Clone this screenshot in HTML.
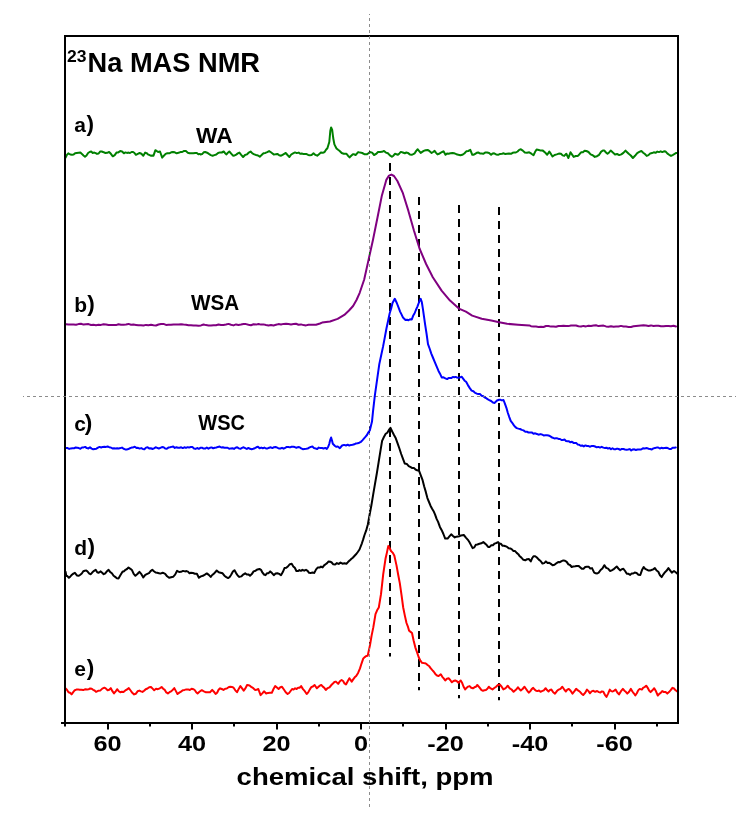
<!DOCTYPE html>
<html><head><meta charset="utf-8"><style>
html,body{margin:0;padding:0;background:#fff;}
svg{display:block;}
text{-webkit-font-smoothing:antialiased;}
text{font-family:"Liberation Sans",sans-serif;font-weight:bold;fill:#000;}
.tk{font-size:21.6px;}
.lb{font-size:21px;}
</style></head><body>
<svg style="will-change:transform" width="756" height="813" viewBox="0 0 756 813">
<rect width="756" height="813" fill="#fff"/>
<!-- crosshair -->
<line x1="390" y1="163" x2="390" y2="656.5" stroke="#000" stroke-width="2" stroke-dasharray="8 6"/><line x1="419" y1="197" x2="419" y2="690.2" stroke="#000" stroke-width="2" stroke-dasharray="8 6"/><line x1="459" y1="205" x2="459" y2="698.2" stroke="#000" stroke-width="2" stroke-dasharray="8 6"/><line x1="499" y1="207" x2="499" y2="700.2" stroke="#000" stroke-width="2" stroke-dasharray="8 6"/>
<polyline points="65.6,157.6 66.9,154.9 68.3,153.3 70.2,154.5 72.0,154.8 73.6,154.6 75.1,153.3 76.7,153.0 78.6,152.8 80.4,152.6 81.9,153.9 83.5,155.5 85.0,156.7 86.5,155.5 88.1,153.0 89.6,152.0 91.2,151.5 92.7,152.9 94.3,152.6 95.7,153.2 97.0,153.9 98.6,153.5 100.1,151.6 101.7,151.5 103.6,152.2 105.4,153.0 107.2,152.8 109.1,152.0 110.9,153.8 112.8,156.3 114.7,155.1 116.5,152.6 118.3,152.4 120.2,151.1 122.1,151.5 123.9,153.3 125.4,152.4 127.0,152.9 128.5,152.6 130.0,153.0 131.6,152.0 133.1,152.0 134.5,153.0 135.9,154.8 137.8,153.8 139.6,153.0 141.4,153.7 143.3,155.7 145.2,152.6 146.6,153.1 148.0,154.4 150.7,155.7 152.1,155.6 153.5,155.7 155.4,150.2 158.1,152.0 160.0,151.5 162.2,157.6 163.9,155.7 165.6,153.9 167.4,153.2 169.3,153.3 171.2,152.3 173.0,152.0 174.8,152.3 176.7,153.3 178.5,152.8 180.4,152.1 182.2,152.0 184.1,150.9 185.9,151.1 187.8,152.7 189.6,153.3 191.5,153.3 193.3,153.3 195.2,153.0 196.8,152.9 198.4,154.3 200.0,153.9 200.6,154.4 202.1,154.1 203.7,152.3 205.2,152.0 207.1,152.7 208.9,153.9 210.8,155.1 212.6,155.7 214.4,155.1 216.3,154.5 218.1,153.0 220.0,152.4 221.8,152.5 223.7,151.5 225.1,153.2 226.5,154.4 227.9,152.7 229.3,151.5 231.2,153.7 233.0,155.7 234.6,155.5 236.2,154.6 237.8,153.4 239.4,152.6 241.2,154.9 243.1,157.0 245.0,155.0 246.9,154.4 248.8,152.6 250.6,151.5 252.4,153.4 254.3,154.4 256.1,155.0 258.0,155.5 259.8,156.7 261.6,155.1 263.5,153.3 265.4,152.9 267.2,152.1 269.1,151.1 270.6,152.0 272.2,153.2 273.7,154.4 275.5,154.2 277.4,153.9 279.2,155.2 281.1,155.7 282.6,154.8 284.2,153.8 285.7,153.0 287.5,155.0 289.4,157.0 291.2,154.5 293.1,153.3 295.0,152.4 296.8,153.1 298.7,152.6 300.2,153.7 301.8,153.6 303.3,153.9 304.9,154.1 306.6,154.1 308.2,154.9 309.8,155.2 311.6,154.9 313.5,153.3 315.4,154.9 317.2,155.7 319.0,154.2 320.9,152.6 322.8,152.8 324.6,152.0 326.0,149.8 327.4,148.3 329.3,142.0 330.3,131.0 331.1,127.5 332.2,130.0 333.2,138.0 334.4,144.4 336.5,148.5 338.1,149.8 339.7,151.0 341.7,153.0 343.7,153.7 346.3,153.7 348.0,155.7 349.6,157.4 351.2,155.8 352.9,154.3 354.2,154.3 355.6,155.0 358.2,152.1 360.2,152.6 362.2,153.0 364.8,154.3 366.8,154.3 368.8,153.0 370.5,152.1 372.1,152.6 374.1,155.0 376.1,153.9 378.0,152.1 380.0,151.9 382.0,151.8 384.0,150.9 385.9,152.6 387.9,153.3 389.9,155.4 391.9,156.8 393.4,155.7 394.9,153.8 396.4,154.3 397.9,154.8 399.4,153.4 400.8,151.9 402.8,152.5 404.8,153.3 406.3,152.5 407.8,152.9 409.8,154.4 411.7,154.8 413.2,154.1 414.7,153.3 416.2,150.9 417.7,149.3 419.2,151.1 420.7,152.9 422.2,151.9 423.7,150.9 425.6,150.2 427.6,149.9 429.6,151.2 431.6,152.9 433.1,152.0 434.6,150.9 436.1,152.8 437.5,154.4 439.0,153.8 440.5,152.9 442.0,152.0 443.5,151.3 445.5,154.8 447.0,153.6 448.5,153.8 450.5,153.3 452.4,153.0 454.4,153.3 456.4,154.2 458.4,154.8 460.4,155.3 462.3,154.8 464.3,153.5 466.3,151.3 468.3,151.0 470.3,149.9 472.3,154.8 473.8,154.7 475.2,153.8 476.7,152.8 478.2,152.5 479.9,153.4 481.5,153.6 483.2,153.8 485.1,152.6 487.1,152.5 489.1,153.0 491.1,154.8 492.6,153.4 494.1,153.3 496.1,154.4 498.1,154.8 500.1,153.9 502.0,153.8 503.7,153.3 505.3,154.0 507.0,153.8 509.0,153.6 511.0,153.8 512.6,152.8 514.3,152.5 515.9,152.5 517.6,151.5 519.2,149.9 520.9,149.3 522.8,150.6 524.8,152.5 527.0,152.7 529.2,152.3 531.4,153.7 533.5,155.2 535.0,152.1 536.6,149.5 538.8,150.0 540.9,150.6 542.5,150.4 544.0,151.6 545.6,153.0 547.2,154.8 549.3,151.6 550.9,153.9 552.5,156.5 554.6,155.0 556.7,154.4 558.9,153.6 561.0,153.8 562.6,155.4 564.2,155.9 566.3,153.8 568.4,158.0 570.5,152.3 572.1,154.6 573.7,156.9 575.8,156.0 577.9,155.9 579.5,154.2 581.1,152.3 582.9,152.3 584.6,150.8 586.4,151.0 588.5,152.0 590.6,154.4 592.7,155.2 594.8,156.9 597.0,156.2 599.1,154.8 601.2,151.6 602.8,150.6 604.4,150.6 606.0,152.5 607.5,153.8 609.1,152.4 610.7,150.6 612.9,152.6 615.0,154.4 617.1,154.0 619.2,155.1 621.3,154.4 623.4,152.9 625.5,150.6 627.1,152.2 628.7,153.8 630.8,155.5 632.9,158.0 635.0,155.8 637.2,153.1 639.3,151.9 641.4,151.0 643.2,152.7 644.9,154.0 646.7,155.9 648.5,155.1 650.2,153.4 652.0,153.1 653.8,152.3 655.5,152.8 657.3,151.6 659.0,152.1 660.7,151.3 662.3,152.1 664.0,151.3 665.7,151.6 667.5,153.6 669.2,154.8 671.0,155.9 672.6,155.1 674.2,154.2 675.8,153.1 677.4,153.1" fill="none" stroke="#008000" stroke-width="2" stroke-linejoin="round" stroke-linecap="round"/>
<polyline points="66.0,324.2 68.5,324.5 71.0,324.4 73.5,324.6 76.0,324.8 78.5,324.1 81.0,323.7 83.5,324.6 86.0,324.3 88.5,324.1 91.0,325.0 93.5,324.8 96.0,325.2 98.5,324.8 101.0,324.9 103.5,324.3 106.0,324.6 108.5,325.1 111.0,324.9 113.5,325.1 116.0,325.1 118.5,324.2 121.0,324.8 123.5,324.8 126.0,324.4 128.5,323.9 131.0,324.7 133.5,324.6 136.0,324.9 138.5,325.3 141.0,325.2 143.5,325.5 146.0,324.9 148.5,325.2 151.0,324.8 153.5,325.3 156.0,325.5 158.5,324.5 161.0,324.0 163.5,323.9 166.0,324.9 168.5,324.7 171.0,324.8 173.5,324.4 176.0,324.5 178.5,324.4 181.0,324.3 183.5,324.6 186.0,324.7 188.5,325.2 191.0,325.2 193.5,325.5 196.0,325.5 198.5,325.8 201.0,325.4 203.5,324.5 206.0,325.1 208.5,325.5 211.0,325.6 213.5,325.2 216.0,325.2 218.5,324.5 221.0,325.0 223.5,324.9 226.0,324.5 228.5,323.9 231.0,324.8 233.5,325.4 236.0,324.4 238.5,324.9 241.0,324.6 243.5,324.1 246.0,324.1 248.5,324.7 251.0,325.2 253.5,324.3 256.0,324.6 258.5,324.0 261.0,324.6 263.5,324.4 266.0,325.0 268.5,325.5 271.0,325.0 273.5,325.5 276.0,324.8 278.5,324.1 281.0,324.5 283.5,323.9 286.0,323.8 288.5,324.1 291.0,324.5 293.5,324.1 296.0,323.7 298.5,324.7 301.0,324.4 303.5,325.1 306.0,325.4 308.5,324.8 311.0,324.7 313.5,324.7 316.0,324.8 320.0,323.5 322.1,322.6 330.0,321.5 337.6,318.9 344.3,314.9 349.0,310.5 353.1,306.0 356.5,300.0 359.7,292.8 364.2,279.5 368.6,259.6 373.0,239.7 377.5,217.5 381.9,195.4 386.3,179.9 389.0,175.6 391.4,174.6 394.0,176.0 397.4,181.0 402.9,193.2 408.4,210.9 414.0,230.8 419.5,248.5 426.1,264.0 432.8,277.3 441.6,290.6 450.0,300.6 458.9,308.6 465.9,311.7 472.2,315.6 481.7,318.7 491.3,320.6 499.2,322.2 507.1,323.8 518.0,324.7 529.4,325.4 531.0,326.2 533.5,326.5 536.0,326.6 538.5,326.9 541.0,326.8 543.5,327.0 546.0,326.0 548.5,326.0 551.0,326.6 553.5,326.5 556.0,326.8 558.5,326.0 561.0,326.0 563.5,325.7 566.0,326.0 568.5,326.1 571.0,325.5 573.5,325.5 576.0,325.5 578.5,326.3 581.0,326.5 583.5,325.9 586.0,326.4 588.5,325.8 591.0,326.1 593.5,325.6 596.0,325.3 598.5,326.1 601.0,325.8 603.5,325.6 606.0,326.4 608.5,326.7 611.0,326.2 613.5,326.7 616.0,326.4 618.5,326.5 621.0,325.9 623.5,326.5 626.0,326.6 628.5,326.9 631.0,327.0 633.5,326.3 636.0,326.0 638.5,325.7 641.0,325.5 643.5,325.3 646.0,325.4 648.5,325.9 651.0,325.4 653.5,326.0 656.0,325.8 658.5,325.7 661.0,326.3 663.5,326.2 666.0,325.9 668.5,326.0 671.0,326.3 673.5,325.7 676.0,326.5" fill="none" stroke="#800080" stroke-width="2" stroke-linejoin="round" stroke-linecap="round"/>
<polyline points="66.0,447.9 67.6,448.1 69.2,448.9 70.8,448.4 72.4,448.2 74.0,448.3 75.6,447.5 77.2,447.8 78.8,448.1 80.4,448.7 82.0,447.5 83.6,447.4 85.2,446.9 86.8,448.1 88.4,448.4 90.0,447.3 91.6,448.6 93.2,449.2 94.8,448.9 96.4,448.7 98.0,447.7 99.6,446.9 101.2,447.5 102.8,446.9 104.4,446.8 106.0,446.9 107.6,446.5 109.2,447.2 110.8,447.5 112.4,448.4 114.0,448.2 115.6,448.4 117.2,448.2 118.8,448.4 120.4,448.1 122.0,447.6 123.6,448.8 125.2,449.4 126.8,449.4 128.4,449.1 130.0,448.2 131.6,447.6 133.2,447.4 134.8,446.8 136.4,447.9 138.0,447.8 139.6,448.6 141.2,448.1 142.8,448.9 144.4,449.2 146.0,447.6 147.6,447.2 149.2,448.4 150.8,448.2 152.4,449.0 154.0,448.3 155.6,447.3 157.2,447.9 158.8,448.5 160.4,447.8 162.0,447.1 163.6,447.2 165.2,448.5 166.8,448.8 168.4,447.6 170.0,447.3 171.6,446.9 173.2,446.5 174.8,447.9 176.4,447.3 178.0,447.8 179.6,447.8 181.2,447.3 182.8,448.1 184.4,447.3 186.0,447.9 187.6,447.2 189.2,447.4 190.8,447.1 192.4,447.1 194.0,448.5 195.6,448.9 197.2,448.0 198.8,448.8 200.4,447.8 202.0,447.7 203.6,448.6 205.2,448.6 206.8,447.5 208.4,448.7 210.0,447.8 211.6,447.4 213.2,448.3 214.8,447.8 216.4,447.5 218.0,446.9 219.6,446.6 221.2,447.5 222.8,447.2 224.4,447.8 226.0,447.7 227.6,447.7 229.2,448.8 230.8,448.4 232.4,448.3 234.0,448.9 235.6,447.8 237.2,447.2 238.8,448.4 240.4,448.8 242.0,447.9 243.6,447.3 245.2,448.1 246.8,449.0 248.4,447.9 250.0,448.8 251.6,449.2 253.2,448.8 254.8,448.2 256.4,447.3 258.0,446.7 259.6,448.3 261.2,447.6 262.8,448.2 264.4,447.6 266.0,448.5 267.6,448.4 269.2,447.8 270.8,447.3 272.4,448.1 274.0,447.2 275.6,447.0 277.2,447.6 278.8,448.5 280.4,448.5 282.0,447.8 283.6,448.7 285.2,447.8 286.8,446.9 288.4,447.0 290.0,447.4 291.6,446.8 293.2,446.8 294.8,447.1 296.4,447.7 298.0,447.1 299.6,447.3 301.2,448.4 302.8,449.2 304.4,448.9 306.0,448.8 307.6,448.6 309.2,447.6 310.8,446.9 312.4,446.5 314.0,448.1 315.6,448.4 317.2,449.1 318.8,447.6 320.4,448.1 322.0,448.0 323.6,448.5 325.2,447.9 326.8,448.9 328.1,447.0 329.3,443.8 330.2,440.0 331.1,437.5 332.0,440.5 332.8,443.8 335.0,446.0 336.4,446.8 337.7,446.4 339.9,448.2 342.1,445.5 344.1,444.9 346.0,445.5 347.7,444.7 349.3,445.6 351.0,444.9 352.6,444.8 354.3,444.3 356.0,443.4 357.6,443.3 359.3,442.7 361.0,441.8 362.6,440.1 364.3,438.2 365.6,436.7 367.0,435.0 368.4,432.3 369.8,430.5 372.0,421.6 373.1,410.6 374.9,395.1 377.1,379.6 379.3,364.1 381.2,355.2 383.1,346.4 384.8,337.4 386.4,328.7 388.0,321.3 389.7,313.2 391.1,308.8 392.5,303.0 394.8,298.8 396.8,303.0 398.6,307.7 400.1,311.6 401.5,314.4 403.0,317.6 404.2,318.7 405.5,320.0 407.0,319.8 408.5,320.3 410.1,319.2 411.8,319.4 413.1,315.8 414.5,313.5 415.9,310.0 417.4,306.6 419.5,301.0 420.7,298.8 421.8,302.0 422.9,308.8 425.1,324.3 426.6,334.0 428.0,344.2 429.6,348.5 431.3,353.6 432.9,357.5 434.7,361.9 436.6,366.4 438.4,370.7 440.0,373.7 441.7,377.4 443.5,377.3 445.4,378.3 447.2,379.1 448.6,378.0 450.0,378.0 451.4,378.1 452.8,376.9 454.2,377.3 455.6,376.9 457.0,377.5 458.5,377.8 460.1,377.4 461.6,376.7 463.1,378.7 464.6,380.7 466.1,381.8 467.9,385.1 469.8,388.1 471.6,390.6 473.4,391.2 475.1,392.9 476.9,393.7 478.7,393.9 480.1,394.1 481.6,395.7 483.0,396.0 484.5,397.3 486.0,398.0 487.5,399.1 489.3,400.1 491.1,401.0 492.9,402.5 494.7,402.9 497.0,400.5 499.1,399.7 500.6,399.8 502.0,400.4 503.5,400.0 504.9,403.7 506.4,407.8 507.8,412.7 509.3,417.1 510.7,420.9 512.2,422.8 513.6,424.9 515.1,426.8 516.7,428.1 518.4,428.6 520.0,429.0 521.8,429.9 523.5,430.4 525.3,431.7 526.9,431.7 528.4,432.5 530.0,432.5 531.7,432.4 533.5,433.8 535.2,433.3 536.9,434.0 538.6,434.7 540.3,434.1 542.0,434.5 543.6,435.4 545.3,435.3 547.0,435.3 548.6,435.5 550.0,436.2 551.5,437.2 553.0,437.8 554.4,438.4 555.8,438.3 557.2,438.3 558.6,438.9 560.0,439.0 561.5,440.0 563.0,439.9 564.5,439.6 566.0,441.0 567.5,441.2 569.0,441.3 570.5,442.3 572.0,441.7 573.5,442.9 575.0,443.0 576.4,443.1 577.8,444.6 579.2,444.7 580.6,445.7 582.2,445.4 583.8,446.4 585.4,445.4 587.0,446.0 588.6,446.1 590.2,446.7 591.9,445.9 593.5,446.0 595.1,446.5 596.8,447.3 598.4,446.9 600.0,447.6 601.7,446.8 603.4,447.6 605.0,448.0 606.5,447.7 608.0,448.6 609.5,447.9 611.0,449.3 612.5,448.2 614.0,449.3 615.5,449.2 617.1,448.6 618.7,449.0 620.2,449.8 621.8,448.9 623.4,449.0 625.0,449.5 626.6,449.8 628.1,449.5 629.7,449.1 631.2,450.5 632.8,449.4 634.3,449.3 635.9,450.0 637.6,449.5 639.4,449.6 641.1,449.5 642.9,448.3 644.6,448.6 647.0,448.1 648.6,448.7 650.2,449.0 651.8,449.5 653.4,448.4 655.0,448.0 656.6,447.6 658.2,447.5 659.8,448.5 661.4,447.8 663.0,448.3 664.6,447.9 666.2,447.8 667.8,448.1 669.4,449.0 671.0,449.0 672.6,447.8 674.2,447.8 675.8,447.5" fill="none" stroke="#0000ff" stroke-width="2" stroke-linejoin="round" stroke-linecap="round"/>
<polyline points="65.6,571.8 66.3,575.8 67.6,576.3 68.9,577.8 70.4,576.4 71.9,574.8 73.4,573.6 74.9,572.8 76.9,575.4 78.8,575.8 80.3,574.7 81.8,573.5 83.3,571.3 84.8,570.8 86.3,570.4 87.8,571.8 89.3,573.6 90.8,574.2 92.4,572.3 94.1,570.8 95.7,569.8 97.2,572.2 98.7,572.8 100.7,571.4 102.2,572.7 103.7,574.2 105.3,573.3 107.0,571.2 108.6,569.8 110.3,572.1 111.9,573.2 113.6,575.8 115.2,576.9 116.9,578.2 118.5,578.4 120.5,575.1 122.5,571.8 124.0,571.2 125.5,569.8 127.0,569.0 128.5,567.5 130.4,568.8 132.1,570.3 133.7,573.9 135.4,575.8 137.4,574.0 139.4,571.8 141.4,574.2 143.3,577.4 145.3,574.8 147.3,573.8 149.0,573.1 150.6,571.1 152.3,569.8 153.9,571.2 155.6,572.5 157.2,572.8 158.9,573.2 160.5,573.6 162.2,572.8 163.7,573.1 165.2,573.8 167.1,576.3 169.1,577.8 171.1,577.2 173.1,576.8 175.1,574.6 177.1,570.8 179.1,572.0 181.0,571.8 183.0,570.9 185.0,571.4 186.5,571.1 188.0,571.6 189.5,573.3 191.0,572.8 193.0,573.0 194.9,573.7 196.9,573.8 198.9,577.8 200.9,576.4 202.9,575.8 204.9,574.6 206.8,573.4 208.8,574.9 210.7,576.9 212.2,575.0 213.7,573.9 215.2,572.3 216.7,570.5 218.7,572.2 220.6,572.7 222.6,573.3 224.4,575.7 226.3,577.1 228.1,578.1 229.7,577.0 231.3,574.5 232.9,571.6 234.5,570.2 236.1,573.1 237.7,575.5 239.3,576.9 241.3,576.4 243.2,574.6 245.2,573.3 246.8,574.5 248.4,574.4 250.0,575.7 251.8,574.1 253.6,571.4 255.6,570.7 257.5,569.4 259.5,569.0 261.0,569.8 262.5,572.7 264.0,574.5 265.5,575.2 267.1,573.2 268.6,573.2 270.2,571.4 272.0,573.1 273.8,575.2 275.6,573.6 277.4,573.3 279.2,573.9 281.0,575.2 282.8,572.1 284.5,568.1 286.3,567.8 288.1,566.2 289.9,564.2 291.7,563.8 293.3,566.4 294.8,567.8 296.4,571.0 297.9,571.1 299.4,570.1 300.9,570.8 302.4,569.8 304.2,570.7 306.0,569.8 307.6,570.8 309.1,572.8 310.7,572.9 312.5,572.6 314.3,572.9 316.1,569.4 317.9,567.4 319.5,567.6 321.0,566.6 322.6,567.4 324.1,565.4 325.6,564.2 327.1,563.1 328.6,561.4 330.2,561.7 331.7,562.5 333.3,564.3 335.1,564.5 336.9,563.1 338.7,563.9 340.5,562.6 342.5,563.7 344.4,563.2 346.4,563.8 348.0,562.1 349.6,560.6 351.2,559.0 352.8,557.7 354.4,556.0 356.0,554.3 357.8,552.0 359.5,549.5 361.9,543.3 363.2,539.4 364.5,535.0 366.2,530.4 367.9,524.3 369.6,514.8 371.4,505.2 373.2,494.4 375.0,483.8 376.8,473.5 378.6,462.4 380.4,451.2 382.1,440.9 383.9,437.0 385.7,433.8 387.3,432.7 388.9,429.9 390.5,427.9 392.2,431.5 394.0,435.0 395.8,438.3 397.6,443.3 399.4,448.5 401.2,454.0 403.0,458.9 404.8,463.6 406.8,463.9 408.7,466.1 410.7,467.1 412.3,468.1 413.9,467.9 415.5,469.5 417.2,470.3 419.0,470.7 420.8,475.4 422.6,480.2 424.2,486.5 425.8,491.9 427.4,498.1 429.0,502.0 430.5,505.7 432.1,508.8 433.6,511.2 435.1,514.6 436.6,518.9 438.1,521.9 439.9,526.9 441.7,530.2 443.4,534.0 445.2,538.6 447.6,538.6 449.4,536.4 451.2,534.3 453.0,536.0 454.8,537.4 456.4,536.7 457.9,536.4 459.5,536.2 460.9,535.5 462.4,535.2 463.8,535.0 465.9,537.6 467.9,539.8 469.5,542.2 471.0,545.1 472.6,548.1 474.2,547.4 475.8,544.8 477.4,544.5 479.4,543.8 481.3,543.3 483.3,542.1 484.9,543.4 486.5,544.8 488.1,546.9 489.7,546.9 491.3,545.3 492.9,545.2 494.6,543.6 496.4,543.0 498.1,542.1 499.5,543.7 501.0,543.8 502.4,545.7 504.0,545.8 505.5,546.2 507.1,546.9 508.7,548.3 510.3,548.4 511.9,549.3 513.5,551.1 515.1,551.1 516.7,552.9 518.3,554.2 519.8,556.3 521.4,557.6 523.4,559.8 525.3,560.3 527.1,559.2 529.0,559.1 530.8,561.4 532.1,558.3 533.5,556.2 535.2,556.2 536.9,557.5 538.8,559.6 540.6,561.0 542.5,563.6 544.2,563.1 545.9,561.4 547.6,563.0 549.2,562.7 550.9,563.9 552.6,565.2 554.5,564.7 556.3,563.3 558.2,562.0 559.9,562.2 561.6,561.1 563.3,560.4 565.0,560.7 566.7,561.9 568.4,564.4 570.0,565.0 571.7,567.0 573.4,566.4 575.1,566.3 576.8,566.0 578.5,565.9 580.1,567.2 581.8,568.8 583.5,568.7 585.2,567.0 586.9,566.7 588.6,566.7 590.3,568.6 592.0,568.1 594.2,572.6 595.7,573.3 597.2,573.5 598.7,572.6 600.6,570.0 602.4,568.5 604.3,565.2 606.2,567.9 608.1,568.6 610.0,571.0 611.7,570.3 613.4,569.4 615.0,567.9 616.7,566.5 618.4,568.5 620.1,570.4 621.8,569.2 623.4,568.8 625.1,571.0 626.8,573.7 628.5,573.8 630.2,574.9 631.7,573.4 633.2,573.5 634.7,572.6 636.6,573.0 638.4,574.7 640.3,574.9 642.0,570.1 643.7,567.0 645.2,568.9 646.7,569.6 648.2,570.4 649.9,570.6 651.5,570.0 653.2,569.4 654.9,568.1 656.6,570.5 658.3,571.7 660.0,575.3 661.7,577.1 663.4,574.3 665.0,572.2 666.7,570.6 668.4,568.1 670.1,570.4 671.8,572.6 674.0,571.0 675.7,572.2 677.4,573.7" fill="none" stroke="#000000" stroke-width="2" stroke-linejoin="round" stroke-linecap="round"/>
<polyline points="65.3,688.1 66.9,689.8 68.5,692.3 70.0,692.8 71.6,694.4 73.2,692.2 74.8,690.2 76.4,689.6 78.0,689.4 79.6,689.8 81.2,689.8 83.3,690.1 85.4,689.2 87.0,689.5 88.6,689.3 90.1,688.4 91.7,688.7 93.1,689.8 94.6,690.5 96.0,691.9 98.1,690.8 100.2,690.6 102.3,688.6 104.4,687.7 106.0,688.6 107.6,690.2 109.2,689.7 110.8,688.1 112.4,691.2 114.0,693.4 115.5,691.7 117.1,689.2 118.7,691.2 120.3,692.3 121.9,691.7 123.5,691.9 125.3,690.4 127.0,689.5 128.8,688.1 130.6,690.5 132.3,692.8 134.1,694.4 135.9,693.7 137.6,691.3 139.4,690.6 140.9,691.4 142.5,691.9 144.1,690.8 145.7,689.2 147.5,688.5 149.2,687.3 151.0,687.0 152.6,688.6 154.2,690.2 156.0,688.8 157.9,689.2 159.8,688.3 161.6,687.0 163.2,688.7 164.8,689.9 166.3,692.4 167.9,693.4 169.5,692.2 171.1,691.3 172.7,689.9 174.3,688.1 175.9,691.1 177.5,694.0 179.3,692.6 181.0,691.6 182.8,690.2 184.6,689.9 186.3,689.4 188.1,689.4 189.8,690.0 191.6,688.7 193.3,689.2 194.7,690.0 196.2,692.2 197.6,693.4 199.7,691.5 201.8,690.2 203.9,691.3 206.0,692.3 208.0,692.2 210.0,692.2 212.2,689.9 213.9,691.7 215.6,694.0 217.1,692.8 218.6,689.8 220.1,688.3 221.8,689.0 223.5,689.9 225.2,688.7 226.8,688.5 228.5,687.3 230.2,686.8 231.9,687.0 233.6,687.7 235.3,690.3 237.0,692.2 238.7,688.9 240.4,686.1 242.1,688.4 243.7,690.6 245.4,688.4 247.1,685.0 248.6,685.2 250.1,685.9 251.6,687.2 253.3,688.2 255.0,689.9 256.6,689.8 258.3,689.0 260.6,695.1 262.3,693.4 264.0,691.3 266.2,693.5 268.1,692.9 269.9,692.8 271.8,692.8 273.5,689.0 275.2,686.1 276.9,687.5 278.6,689.0 280.3,687.3 282.0,686.8 283.9,689.5 285.7,692.2 287.6,694.0 289.1,693.0 290.6,691.0 292.1,689.0 293.6,689.6 295.1,688.3 296.6,689.0 298.1,687.7 299.6,687.7 301.1,686.1 303.0,689.1 304.8,691.2 306.7,694.0 308.2,692.4 309.7,689.6 311.2,687.2 312.9,686.5 314.6,685.0 316.8,688.3 318.3,686.9 319.8,685.7 321.3,685.0 322.8,686.6 324.3,687.8 325.8,689.9 327.7,688.1 329.5,687.3 331.4,685.0 332.9,683.6 334.4,682.0 335.9,681.6 338.2,683.9 339.9,681.3 341.6,680.0 343.1,681.0 344.5,683.4 346.0,684.5 347.7,681.2 349.4,678.2 351.7,681.6 353.2,679.4 354.7,677.3 356.2,676.0 358.1,672.9 360.0,668.4 361.6,663.3 363.3,658.4 364.8,657.1 366.2,656.0 367.7,655.7 370.0,645.1 371.6,635.6 373.3,627.4 375.5,614.1 377.1,610.3 378.8,607.5 381.0,594.2 383.2,574.3 385.5,558.8 386.9,552.6 388.3,545.9 389.6,548.0 391.0,551.0 392.6,552.6 394.3,555.5 396.5,565.4 398.1,574.2 399.8,583.1 401.5,594.9 403.2,607.5 404.9,615.9 406.5,623.0 407.8,626.3 409.1,630.7 410.6,631.9 412.0,633.0 413.6,640.5 415.3,647.3 417.0,652.2 418.7,657.3 420.4,660.7 422.0,662.8 423.5,663.1 424.9,663.2 426.4,663.9 427.9,665.3 429.3,666.3 430.8,668.4 432.3,670.1 433.8,671.7 435.3,673.9 437.0,675.5 438.6,676.1 440.8,674.3 442.3,676.8 443.7,678.4 445.2,680.5 446.9,678.7 448.6,678.3 450.2,680.0 451.9,682.3 453.5,681.0 455.2,680.5 456.9,681.2 458.5,682.8 460.7,680.5 462.2,683.1 463.7,687.0 465.2,689.4 466.7,687.8 468.1,686.6 469.6,686.1 471.2,687.8 472.9,688.3 474.4,687.3 475.8,686.8 477.3,685.0 479.4,687.4 481.5,690.1 483.0,690.7 484.4,690.3 485.9,690.1 487.4,688.8 488.8,686.7 490.6,688.4 492.5,689.4 494.3,688.0 496.1,686.7 497.9,685.0 499.7,684.5 501.5,686.5 503.4,689.4 504.8,688.7 506.3,687.5 507.7,685.7 509.7,688.3 511.6,689.5 513.6,691.8 515.0,690.5 516.5,689.2 517.9,687.2 519.3,689.0 520.8,690.4 522.6,689.0 524.5,686.7 525.9,688.7 527.4,690.8 528.8,692.6 530.3,691.3 531.7,689.1 533.2,687.9 534.7,689.6 536.1,690.7 537.6,691.1 539.0,690.5 540.5,691.8 541.9,691.1 543.8,690.3 545.6,688.2 547.0,690.1 548.5,691.5 550.0,689.9 551.4,689.6 553.2,692.2 555.0,693.6 556.9,691.1 558.7,689.6 560.5,688.8 562.3,686.7 564.1,689.3 565.9,691.5 567.3,689.6 568.8,688.9 570.6,690.8 572.5,693.6 574.3,691.4 576.1,688.9 578.0,690.4 580.0,691.8 581.6,693.7 583.2,695.0 585.1,692.9 587.0,689.6 588.5,691.1 589.9,693.3 591.6,691.4 593.4,690.8 595.2,691.8 597.1,691.0 598.9,692.1 600.4,692.5 601.8,691.4 603.3,691.8 604.9,694.8 606.5,696.9 608.1,693.6 609.8,689.6 611.2,691.1 612.7,691.5 614.2,690.6 615.6,689.6 617.3,692.5 619.0,694.4 621.0,691.2 622.9,688.9 624.4,690.7 625.8,691.8 627.3,693.6 629.1,691.8 630.9,688.9 632.4,691.5 633.8,693.3 635.3,695.5 636.8,693.3 638.2,690.4 639.7,688.9 641.8,689.6 643.3,687.6 644.7,687.1 646.2,685.7 647.7,687.8 649.1,690.5 650.6,692.1 652.4,690.3 654.2,688.2 656.0,691.3 657.8,695.5 659.3,693.8 660.7,692.9 662.2,691.1 663.9,692.0 665.6,692.1 667.3,693.6 669.0,692.1 670.7,690.2 672.4,687.8 674.0,688.5 675.6,690.3 677.2,691.5" fill="none" stroke="#ff0000" stroke-width="2" stroke-linejoin="round" stroke-linecap="round"/>
<!-- frame -->
<rect x="65" y="36" width="613" height="687" fill="none" stroke="#000" stroke-width="2"/>
<line x1="61" y1="723" x2="679" y2="723" stroke="#000" stroke-width="2"/>
<line x1="65.0" y1="723" x2="65.0" y2="726.5" stroke="#000" stroke-width="2"/><line x1="108.0" y1="723" x2="108.0" y2="729.5" stroke="#000" stroke-width="2"/><line x1="150.0" y1="723" x2="150.0" y2="726.5" stroke="#000" stroke-width="2"/><line x1="192.0" y1="723" x2="192.0" y2="729.5" stroke="#000" stroke-width="2"/><line x1="234.0" y1="723" x2="234.0" y2="726.5" stroke="#000" stroke-width="2"/><line x1="277.0" y1="723" x2="277.0" y2="729.5" stroke="#000" stroke-width="2"/><line x1="319.0" y1="723" x2="319.0" y2="726.5" stroke="#000" stroke-width="2"/><line x1="361.0" y1="723" x2="361.0" y2="729.5" stroke="#000" stroke-width="2"/><line x1="403.0" y1="723" x2="403.0" y2="726.5" stroke="#000" stroke-width="2"/><line x1="446.0" y1="723" x2="446.0" y2="729.5" stroke="#000" stroke-width="2"/><line x1="488.0" y1="723" x2="488.0" y2="726.5" stroke="#000" stroke-width="2"/><line x1="530.0" y1="723" x2="530.0" y2="729.5" stroke="#000" stroke-width="2"/><line x1="572.0" y1="723" x2="572.0" y2="726.5" stroke="#000" stroke-width="2"/><line x1="615.0" y1="723" x2="615.0" y2="729.5" stroke="#000" stroke-width="2"/><line x1="657.0" y1="723" x2="657.0" y2="726.5" stroke="#000" stroke-width="2"/>
<text transform="translate(107.50,751.3) scale(1.17,1)" text-anchor="middle" class="tk">60</text><text transform="translate(192.00,751.3) scale(1.17,1)" text-anchor="middle" class="tk">40</text><text transform="translate(276.50,751.3) scale(1.17,1)" text-anchor="middle" class="tk">20</text><text transform="translate(361.00,751.3) scale(1.17,1)" text-anchor="middle" class="tk">0</text><text transform="translate(445.50,751.3) scale(1.17,1)" text-anchor="middle" class="tk">-20</text><text transform="translate(530.00,751.3) scale(1.17,1)" text-anchor="middle" class="tk">-40</text><text transform="translate(614.50,751.3) scale(1.17,1)" text-anchor="middle" class="tk">-60</text>
<text x="236.6" y="785.1" textLength="257" lengthAdjust="spacingAndGlyphs" style="font-size:24px">chemical shift, ppm</text>
<text x="67" y="62.3" textLength="19.5" lengthAdjust="spacingAndGlyphs" style="font-size:16.3px">23</text>
<text x="87.5" y="71.6" textLength="172.5" lengthAdjust="spacingAndGlyphs" style="font-size:27.6px">Na MAS NMR</text>
<text x="196" y="143" class="lb" style="font-size:22px" textLength="36.5" lengthAdjust="spacingAndGlyphs">WA</text>
<text x="191" y="309.8" class="lb" style="font-size:22px" textLength="48.2" lengthAdjust="spacingAndGlyphs">WSA</text>
<text x="198.3" y="430.4" class="lb" style="font-size:22px" textLength="46.6" lengthAdjust="spacingAndGlyphs">WSC</text>
<g style="mix-blend-mode:difference" stroke="#737373" stroke-width="1" stroke-dasharray="3 3" stroke-dashoffset="2"><line x1="369.5" y1="14" x2="369.5" y2="807"/><line x1="23" y1="396.5" x2="736" y2="396.5"/></g>
<text x="74.2" y="131.7" style="font-size:21px">a</text><text x="86.6" y="130.9" style="font-size:22.6px">)</text>
<text x="74.2" y="311.8" style="font-size:21px">b</text><text x="87.2" y="311.0" style="font-size:22.6px">)</text>
<text x="74.2" y="430.7" style="font-size:21px">c</text><text x="84.7" y="429.9" style="font-size:22.6px">)</text>
<text x="74.2" y="554.7" style="font-size:21px">d</text><text x="87.4" y="553.9" style="font-size:22.6px">)</text>
<text x="74.2" y="675.7" style="font-size:21px">e</text><text x="86.8" y="674.9" style="font-size:22.6px">)</text>
</svg>
</body></html>
